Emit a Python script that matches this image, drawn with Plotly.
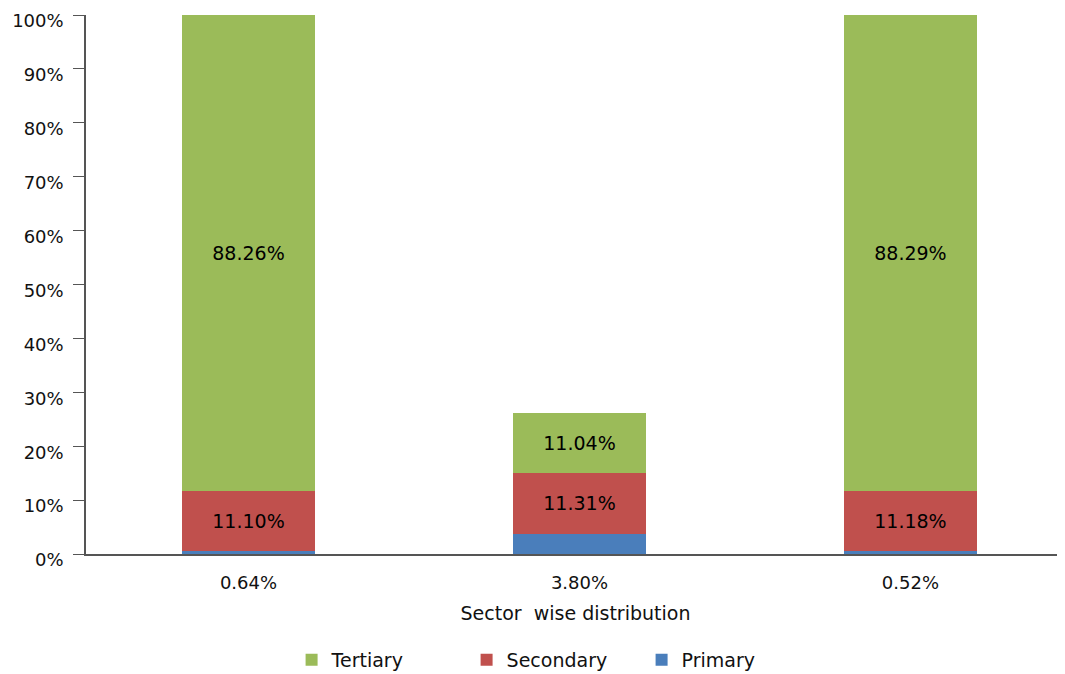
import plotly.graph_objects as go

categories = ["0.64%", "3.80%", "0.52%"]
primary = [0.64, 3.80, 0.52]
secondary = [11.10, 11.31, 11.18]
tertiary = [88.26, 11.04, 88.29]
y_ticks = [0, 10, 20, 30, 40, 50, 60, 70, 80, 90, 100]

FONT = "'DejaVu Sans', Verdana, sans-serif"
fig = go.Figure()
fig.add_trace(go.Bar(x=categories, y=primary, name="Primary", marker_color="#4a7ebb",
                     marker_line_width=0, width=0.40))
fig.add_trace(go.Bar(x=categories, y=secondary, name="Secondary", marker_color="#c0504d",
                     marker_line_width=0, width=0.40,
                     text=[f"{v:.2f}%" for v in secondary], textposition="inside",
                     insidetextanchor="middle", textangle=0, constraintext="none",
                     textfont=dict(color="black", size=19, family=FONT)))
fig.add_trace(go.Bar(x=categories, y=tertiary, name="Tertiary", marker_color="#9bbb59",
                     marker_line_width=0, width=0.40,
                     text=[f"{v:.2f}%" for v in tertiary], textposition="inside",
                     insidetextanchor="middle", textangle=0, constraintext="none",
                     textfont=dict(color="black", size=19, family=FONT)))

fig.update_layout(
    barmode="stack",
    width=1057, height=666,
    margin=dict(l=78, r=0, t=7, b=120),
    plot_bgcolor="white", paper_bgcolor="white",
    font=dict(family=FONT, size=18, color="#111"),
    legend=dict(orientation="h", traceorder="reversed", x=0.21, xanchor="left",
                yref="container", y=0.021, yanchor="middle", entrywidth=130,
                font=dict(size=19, family=FONT)),
    xaxis=dict(type="category", range=[-0.491, 2.467], showline=True, linecolor="#555",
               linewidth=1.5, ticks="", tickfont=dict(size=18), automargin=False,
               ticklabelstandoff=12,
               title=dict(text="Sector  wise distribution", font=dict(size=19), standoff=14)),
    yaxis=dict(range=[0, 100], tickvals=y_ticks, ticktext=[f"{v}%" for v in y_ticks],
               showline=True, linecolor="#555", linewidth=1.5, ticks="outside",
               ticklen=11, tickcolor="#555", showgrid=False, zeroline=False,
               tickfont=dict(size=18), automargin=False, ticklabelstandoff=6,
               ticklabelshift=6, ticklabeloverflow="allow"),
)
fig.write_html("out.html")
